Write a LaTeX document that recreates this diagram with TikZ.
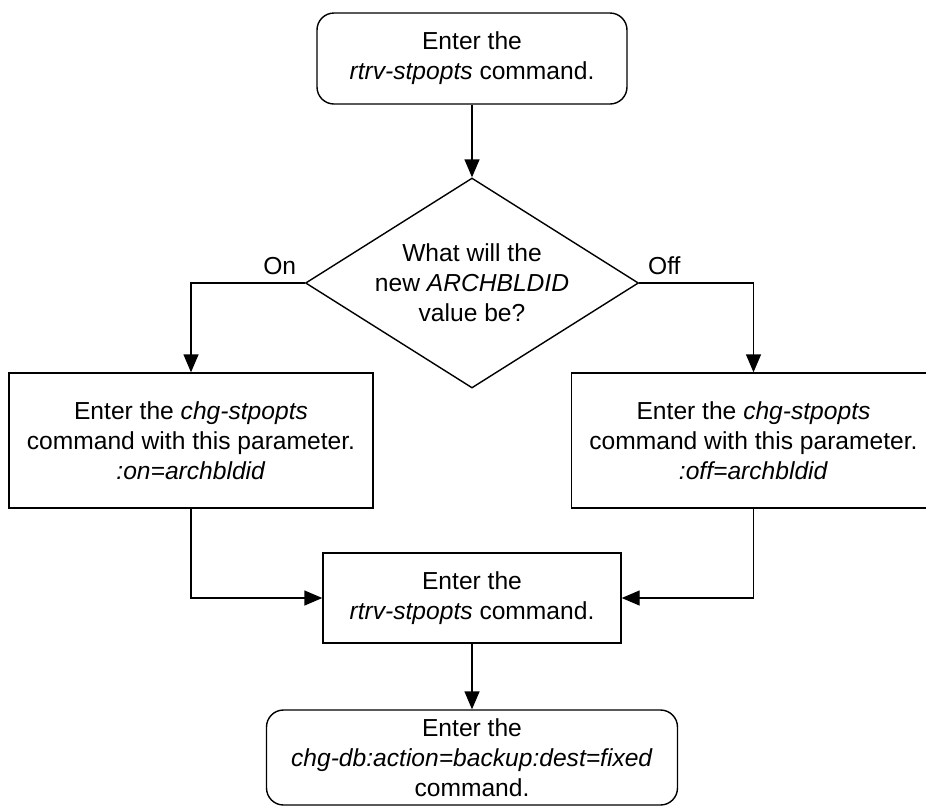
\documentclass[tikz,border=0pt]{standalone}
\usepackage{fontspec}
\setmainfont{Liberation Sans}
\usetikzlibrary{positioning, shapes.geometric, arrows.meta}
\tikzset{
	flowtext/.style={font=\fontsize{14}{17}\selectfont, align=center, text=black},
	cmdround/.style={flowtext, rectangle, rounded corners=.34cm, draw=black, line width=.8pt, inner sep=2pt},
	cmdbox/.style={flowtext, rectangle, draw=black, line width=.8pt, inner sep=2pt},
	decision/.style={flowtext, diamond, draw=black, line width=.8pt, inner sep=0pt, aspect=1.586, minimum width=6.66cm, minimum height=4.2cm},
	flow/.style={line width=.8pt, -{Triangle[width=.3cm, length=.36cm]}},
	branch/.style={flowtext, above=1pt}
}

\begin{document}
\begin{tikzpicture}[baseline={(current bounding box.center)}]
\useasboundingbox (0,0) rectangle (18.52,-16.18);
\clip (0,0) rectangle (18.52,-16.18);
% steps
\node [cmdround, minimum width=6.2cm, minimum height=1.82cm] (rtrvfirst) at (9.44,-1.17) {Enter the\\\textit{rtrv-stpopts} command.};
\node [decision] (newval) at (9.44,-5.66) {What will the\\new \textit{ARCHBLDID}\\value be?};
\node [cmdbox, minimum width=7.28cm, minimum height=2.7cm] (chgon) at (3.82,-8.81) {Enter the \textit{chg-stpopts}\\command with this parameter.\\\textit{:on=archbldid}};
\node [cmdbox, minimum width=7.28cm, minimum height=2.7cm] (chgoff) at (15.07,-8.81) {Enter the \textit{chg-stpopts}\\command with this parameter.\\\textit{:off=archbldid}};
\node [cmdbox, minimum width=5.96cm, minimum height=1.8cm] (rtrvcheck) at (9.44,-11.96) {Enter the\\\textit{rtrv-stpopts} command.};
\node [cmdround, minimum width=8.22cm, minimum height=1.9cm] (backup) at (9.44,-15.15) {Enter the\\\textit{chg-db:action=backup:dest=fixed}\\command.};
% connectors
\draw [flow] (rtrvfirst) -- (newval);
\draw [flow] (newval.west) -| node [branch, pos=.11] (onlbl) {On} (chgon.north);
\draw [flow] (newval.east) -| node [branch, pos=.11] (offlbl) {Off} (chgoff.north);
\draw [flow] (chgon.south) |- (rtrvcheck.west);
\draw [flow] (chgoff.south) |- (rtrvcheck.east);
\draw [flow] (rtrvcheck) -- (backup);
\end{tikzpicture}
\end{document}
